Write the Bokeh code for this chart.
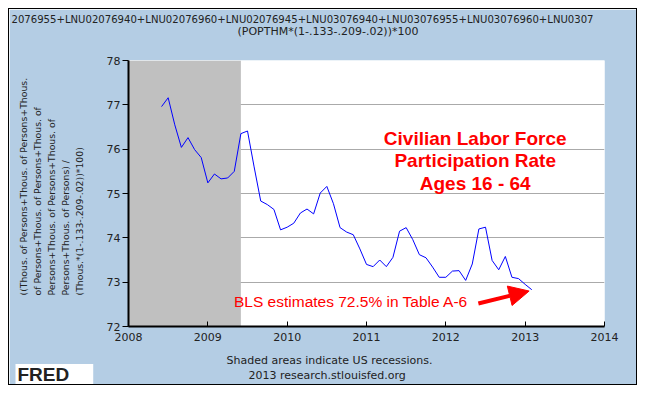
from bokeh.plotting import figure
from bokeh.models import Label, Arrow, NormalHead, FixedTicker, Title
from bokeh.embed import file_html
from bokeh.resources import INLINE

# ---------------- data ----------------
first_year = 2008
first_month = 6  # June 2008, monthly observations
rate = [76.96, 77.16, 76.55, 76.04, 76.26, 75.99, 75.81, 75.24, 75.44, 75.33,
        75.35, 75.50, 76.35, 76.41, 75.60, 74.83, 74.75, 74.64, 74.18, 74.24,
        74.33, 74.56, 74.65, 74.54, 75.01, 75.16, 74.77, 74.23, 74.13, 74.07,
        73.75, 73.40, 73.35, 73.50, 73.35, 73.56, 74.15, 74.23, 73.96, 73.62,
        73.55, 73.34, 73.11, 73.11, 73.25, 73.26, 73.04, 73.41, 74.20, 74.24,
        73.49, 73.28, 73.58, 73.11, 73.08, 72.95, 72.83]
recession_start = [2007 + 11 / 12]   # Dec 2007
recession_end = [2009 + 5 / 12]      # Jun 2009
x_ticks = [2008, 2009, 2010, 2011, 2012, 2013, 2014]
y_ticks = [72, 73, 74, 75, 76, 77, 78]

title_line1 = ("2076955+LNU02076940+LNU02076960+LNU02076945+LNU03076940+"
               "LNU03076955+LNU03076960+LNU0307")
title_line2 = "(POPTHM*(1-.133-.209-.02))*100"
ylabel_lines = ["((Thous. of Persons+Thous. of Persons+Thous.",
                "of Persons+Thous. of Persons+Thous. of",
                "Persons+Thous. of Persons+Thous. of",
                "Persons+Thous. of Persons) /",
                "(Thous.*(1-.133-.209-.02))*100)"]
footer_lines = ["Shaded areas indicate US recessions.",
                "2013 research.stlouisfed.org"]
logo_text = "FRED"
note_lines = ["Civilian Labor Force", "Participation Rate", "Ages 16 - 64"]
bls_note = "BLS estimates 72.5% in Table A-6"

dates = [first_year + (first_month - 1 + i) / 12 for i in range(len(rate))]

# ---------------- figure ----------------
BG = "#B4CDE4"
TXT = "#222222"
W, H = 629, 377
p = figure(width=W, height=H, x_range=(2008, 2014), y_range=(72, 78),
           output_backend="svg", toolbar_location=None,
           min_border_left=119, min_border_right=34,
           min_border_top=51, min_border_bottom=60)
p.margin = (8, 0, 0, 8)
p.title.text = ""
p.title.visible = False
p.styles = {"border": "1px solid black"}
p.background_fill_color = "white"
p.border_fill_color = BG
p.outline_line_color = None

p.quad(left=recession_start, right=recession_end, bottom=72, top=78,
       fill_color="#C0C0C0", line_color=None)
p.line(dates, rate, line_color="#0000FF", line_width=1)

# axes
p.xaxis.ticker = FixedTicker(ticks=x_ticks)
p.yaxis.ticker = FixedTicker(ticks=y_ticks)
for ax in (p.xaxis[0], p.yaxis[0]):
    ax.axis_line_color = "black"
    ax.axis_line_width = 2
    ax.major_tick_line_color = "black"
    ax.major_tick_line_width = 1
    ax.minor_tick_line_color = None
    ax.major_label_text_font = "DejaVu Sans"
    ax.major_label_text_font_size = "11px"
    ax.major_label_text_color = TXT
p.xaxis.major_tick_in = 5
p.xaxis.major_tick_out = 0
p.xaxis.major_label_standoff = 6
p.yaxis.major_tick_in = 0
p.yaxis.major_tick_out = 6
p.yaxis.major_label_standoff = 2
p.xgrid.grid_line_color = None
p.ygrid.grid_line_color = "#AAAAAA"
p.ygrid.grid_line_width = 1

FRAME_LEFT = 128    # page x of the frame's left edge
FRAME_TOP = 60      # page y of the frame's top edge
FRAME_BOTTOM = 326  # page y of the frame's bottom edge

def title(text, side, offset=0, size="11px", standoff=0, valign="middle",
          fnt="DejaVu Sans", style="normal", color=TXT, **kw):
    t = Title(text=text, align="left", offset=offset, standoff=standoff,
              vertical_align=valign, text_font=fnt, text_font_size=size,
              text_font_style=style, text_color=color, **kw)
    p.add_layout(t, side)
    return t

# --- above: the logo label (its panel slot also spaces the header lines
#     away from the frame; drawn far below, at the bottom-left corner),
#     then the two lines of the series formula
p.add_layout(Label(x=15 - FRAME_LEFT, y=FRAME_TOP - 374,
                   x_units="screen", y_units="screen", text=logo_text,
                   text_font="Liberation Sans", text_font_size="19px",
                   text_font_style="bold", text_color=TXT,
                   text_align="left", text_baseline="middle",
                   background_fill_color="white", padding=(2, 24, 0, 0)),
             "above")
title(title_line2, "above", offset=237 - FRAME_LEFT, valign="top")
title(title_line1, "above", offset=11 - FRAME_LEFT, size="10.1px",
      valign="bottom")

# --- left: spacer, then the y-axis label lines (closest line first)
title(" ", "left", size="11px", standoff=2)
for line in reversed(ylabel_lines):
    title(line, "left", offset=FRAME_BOTTOM - 295, size="9.3px", standoff=1)

# --- below: spacer, footer lines
title(" ", "below", size="3px", standoff=4)
title(footer_lines[0], "below", offset=226 - FRAME_LEFT)
title(footer_lines[1], "below", offset=248 - FRAME_LEFT)

# annotations in data space
for i, line in enumerate(note_lines):
    p.add_layout(Label(x=2012.37, y=76.24 - i * 0.505, text=line,
                       text_font="Liberation Sans", text_font_size="19px",
                       text_font_style="bold", text_color="#FF0000",
                       text_align="center", text_baseline="middle"))
p.add_layout(Label(x=2009.33, y=72.57, text=bls_note,
                   text_font="Liberation Sans", text_font_size="15.5px",
                   text_color="#FF0000", text_align="left",
                   text_baseline="middle"))
p.add_layout(Arrow(x_start=2012.41, y_start=72.52, x_end=2013.05, y_end=72.80,
                   line_color="#FF0000", line_width=4,
                   end=NormalHead(size=20, fill_color="#FF0000",
                                  line_color="#FF0000")))

open("out.html", "w").write(file_html(p, INLINE))
